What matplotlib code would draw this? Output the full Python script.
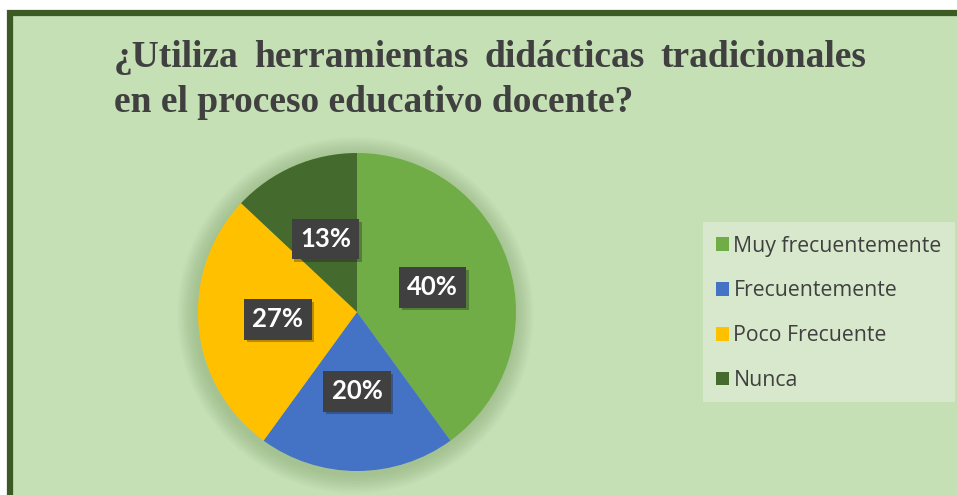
import matplotlib
matplotlib.use("Agg")
import matplotlib.pyplot as plt
from matplotlib.patches import Rectangle, Circle
import matplotlib.patheffects as pe

titulo_1 = "¿Utiliza herramientas didácticas tradicionales"
titulo_2 = "en el proceso educativo docente?"

categorias = ["Muy frecuentemente", "Frecuentemente", "Poco Frecuente", "Nunca"]
porcentajes = [40, 20, 27, 13]
colores = ["#70AD47", "#4472C4", "#FFC000", "#446A2D"]

W, H = 957, 495
fig = plt.figure(figsize=(W / 100, H / 100), dpi=100)
fig.patch.set_facecolor("white")

# panel de fondo con borde verde oscuro (arriba e izquierda)
fondo = Rectangle((10 / W, -0.1), 1.2, 1 - 13 / H + 0.1, transform=fig.transFigure,
                  facecolor="#C5E0B4", edgecolor="#3B5A24", linewidth=4.5, zorder=0)
fig.patches.append(fondo)

# fondo de la leyenda
fig.patches.append(Rectangle((703 / W, 1 - 402 / H), (955 - 703) / W, (402 - 222) / H,
                             transform=fig.transFigure, facecolor="#D7E8CC",
                             edgecolor="none", zorder=1))

# ejes del pastel: centro (357, 312), radio 159 px
cx, cy, r = 357, 312, 159
k = 1.3
ax = fig.add_axes([(cx - k * r) / W, (H - cy - k * r) / H, 2 * k * r / W, 2 * k * r / H])
ax.set_zorder(2)

# sombra suave alrededor del pastel
for i in range(12):
    ax.add_patch(Circle((-0.01, -0.02), 1.0 + 0.01 * (i + 1), color="#6f8f5a",
                        alpha=0.03, lw=0, zorder=0))

wedges, textos, autotextos = ax.pie(
    porcentajes, colors=colores, startangle=90, counterclock=False,
    autopct=lambda p: f"{p:.0f}%", pctdistance=0.5,
    wedgeprops=dict(linewidth=0),
    textprops=dict(color="white", fontsize=18.5, fontweight="bold", family="Lato"))
for t in autotextos:
    t.set_bbox(dict(boxstyle="square,pad=0.32", facecolor="#404040", edgecolor="none"))
    t.get_bbox_patch().set_path_effects([pe.SimplePatchShadow(offset=(2, -2), alpha=0.3),
                                         pe.Normal()])
ax.set_xlim(-k, k)
ax.set_ylim(-k, k)
ax.set_aspect("equal")
ax.axis("off")

# leyenda
leg = fig.legend(wedges, categorias, loc="upper left",
                 bbox_to_anchor=(705 / W, 1 - 225 / H), frameon=False,
                 prop=dict(family="Open Sans", size=15.3), labelcolor="#404040",
                 handlelength=0.62, handleheight=0.62, handletextpad=0.22,
                 labelspacing=1.12, borderpad=0)
leg.set_zorder(3)

# titulo justificado en dos lineas
fig.canvas.draw()
ren = fig.canvas.get_renderer()
estilo = dict(family="Liberation Serif", fontweight="bold", fontsize=27, color="#404040")

def medir(s):
    t = fig.text(0, 0, s, **estilo)
    w = t.get_window_extent(ren).width
    t.remove()
    return w

x0, x1 = 114, 866
palabras = titulo_1.split(" ")
anchos = [medir(p) for p in palabras]
hueco = (x1 - x0 - sum(anchos)) / (len(palabras) - 1)
x = x0
for p, w in zip(palabras, anchos):
    fig.text(x / W, 1 - 67 / H, p, ha="left", va="baseline", **estilo)
    x += w + hueco
fig.text(x0 / W, 1 - 112 / H, titulo_2, ha="left", va="baseline", **estilo)

fig.savefig("out.png", dpi=100, facecolor=fig.get_facecolor())
